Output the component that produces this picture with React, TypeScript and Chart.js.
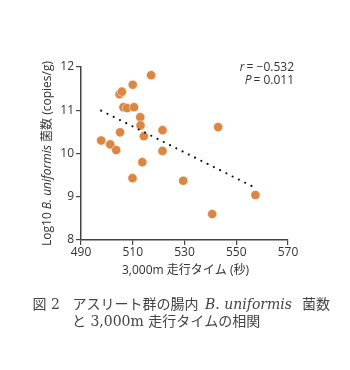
import React, { useEffect, useRef } from "react";
import { Chart, registerables } from "chart.js";
Chart.register(...registerables);

const runTimes = [497.8, 501.3, 503.6, 505.1, 504.9, 505.8, 506.4, 507.8, 510.0, 510.5, 509.9, 512.9, 513.0, 514.3, 513.7, 517.1, 521.5, 521.5, 529.5, 543.0, 540.7, 557.4];
const logCounts = [10.3, 10.21, 10.08, 10.49, 11.37, 11.43, 11.07, 11.05, 11.59, 11.07, 9.43, 10.84, 10.65, 10.4, 9.8, 11.81, 10.54, 10.06, 9.37, 10.61, 8.6, 9.04];
const trendX = [497.8, 556.9];
const trendY = [10.99, 9.22];
const xTicks = [490, 510, 530, 550, 570];
const yTicks = [8, 9, 10, 11, 12];
const statsLines = ["r", "P"];
const statsValues = ["\u22120.532", "0.011"];

const SANS = '"Open Sans", "Noto Sans CJK JP", sans-serif';
const SERIF = '"DejaVu Serif", "Noto Sans CJK JP", serif';

export default function App() {
  const ref = useRef<HTMLCanvasElement>(null);
  useEffect(() => {
    const textPlugin = {
      id: "texts",
      afterDraw(chart: any) {
        const ctx = chart.ctx;
        const ca = chart.chartArea;
        ctx.save();
        ctx.fillStyle = "#333";
        // stats
        ctx.textBaseline = "middle";
        const rightEdge = 294;
        const statYs = [68, 81];
        for (let i = 0; i < 2; i++) {
          ctx.font = "12px " + SANS;
          const valW = ctx.measureText("= " + statsValues[i]).width;
          ctx.textAlign = "left";
          ctx.fillText("= " + statsValues[i], rightEdge - valW, statYs[i]);
          ctx.font = "italic 12px " + SANS;
          const lw = ctx.measureText(statsLines[i]).width;
          ctx.fillText(statsLines[i], rightEdge - valW - lw - 2, statYs[i]);
        }
        // x title
        ctx.textAlign = "center";
        ctx.font = "12px " + SANS;
        ctx.fillText("3,000m 走行タイム (秒)", (ca.left + ca.right) / 2 + 1, ca.bottom + 31);
        // y title
        const segs: [string, string][] = [
          ["Log10 ", "12px " + SANS],
          ["B. uniformis", "italic 12px " + SANS],
          [" 菌数 (copies/g)", "12px " + SANS],
        ];
        let total = 0;
        for (const [t, f] of segs) { ctx.font = f; total += ctx.measureText(t).width; }
        ctx.translate(ca.left - 33, (ca.top + ca.bottom) / 2);
        ctx.rotate(-Math.PI / 2);
        ctx.textAlign = "left";
        let x = -total / 2;
        for (const [t, f] of segs) { ctx.font = f; ctx.fillText(t, x, 0); x += ctx.measureText(t).width; }
        ctx.restore();
        // caption
        ctx.save();
        ctx.fillStyle = "#444";
        ctx.textBaseline = "middle";
        ctx.textAlign = "left";
        const cap1: [string, string, number][] = [
          ["図", "14px " + SERIF, 32.5],
          ["2", "14px " + SERIF, 51],
          ["アスリート群の腸内", "14px " + SERIF, 72.5],
          ["B. uniformis", "italic 14px " + SERIF, 205],
          ["菌数", "14px " + SERIF, 302],
        ];
        for (const [t, f, px] of cap1) { ctx.font = f; ctx.fillText(t, px, 305); }
        ctx.font = "14px " + SERIF;
        ctx.fillText("と 3,000m 走行タイムの相関", 72, 322);
        ctx.restore();
      },
    };
    const chart = new Chart(ref.current!, {
      type: "scatter",
      data: {
        datasets: [
          {
            type: "line",
            data: trendX.map((x, i) => ({ x, y: trendY[i] })),
            borderColor: "#111",
            borderWidth: 2.2,
            borderDash: [0, 7],
            borderCapStyle: "round",
            pointRadius: 0,
            fill: false,
          } as any,
          {
            data: runTimes.map((x, i) => ({ x, y: logCounts[i] })),
            backgroundColor: "#DC8640",
            borderColor: "rgba(255,255,255,0.6)",
            borderWidth: 0.8,
            pointRadius: 4.6,
          },
        ],
      },
      options: {
        animation: false,
        responsive: false,
        layout: { padding: { left: 0, top: 67, right: 62, bottom: 0 } },
        plugins: { legend: { display: false }, tooltip: { enabled: false } },
        scales: {
          x: {
            type: "linear",
            min: 490,
            max: 570,
            afterBuildTicks: (s: any) => { s.ticks = xTicks.map((v) => ({ value: v })); },
            afterFit: (s: any) => { s.height = 130; },
            grid: { drawOnChartArea: false, drawTicks: true, tickLength: 5, color: "#444", lineWidth: 1.2 },
            border: { display: true, color: "#444", width: 1.5 },
            ticks: { color: "#333", font: { family: SANS, size: 12 }, padding: 0, maxRotation: 0 },
          },
          y: {
            type: "linear",
            min: 8,
            max: 12,
            afterBuildTicks: (s: any) => { s.ticks = yTicks.map((v) => ({ value: v })); },
            afterFit: (s: any) => { s.width = 81; },
            grid: { drawOnChartArea: false, drawTicks: true, tickLength: 5, color: "#444", lineWidth: 1.2 },
            border: { display: true, color: "#444", width: 1.5 },
            ticks: { color: "#333", font: { family: SANS, size: 12 }, padding: 2 },
          },
        },
      },
      plugins: [textPlugin],
    });
    return () => chart.destroy();
  }, []);
  return (
    <div style={{ position: "absolute", left: 0, top: 0, width: 350, height: 370, background: "#fff" }}>
      <canvas ref={ref} width={350} height={370} style={{ width: 350, height: 370, display: "block" }} />
    </div>
  );
}
